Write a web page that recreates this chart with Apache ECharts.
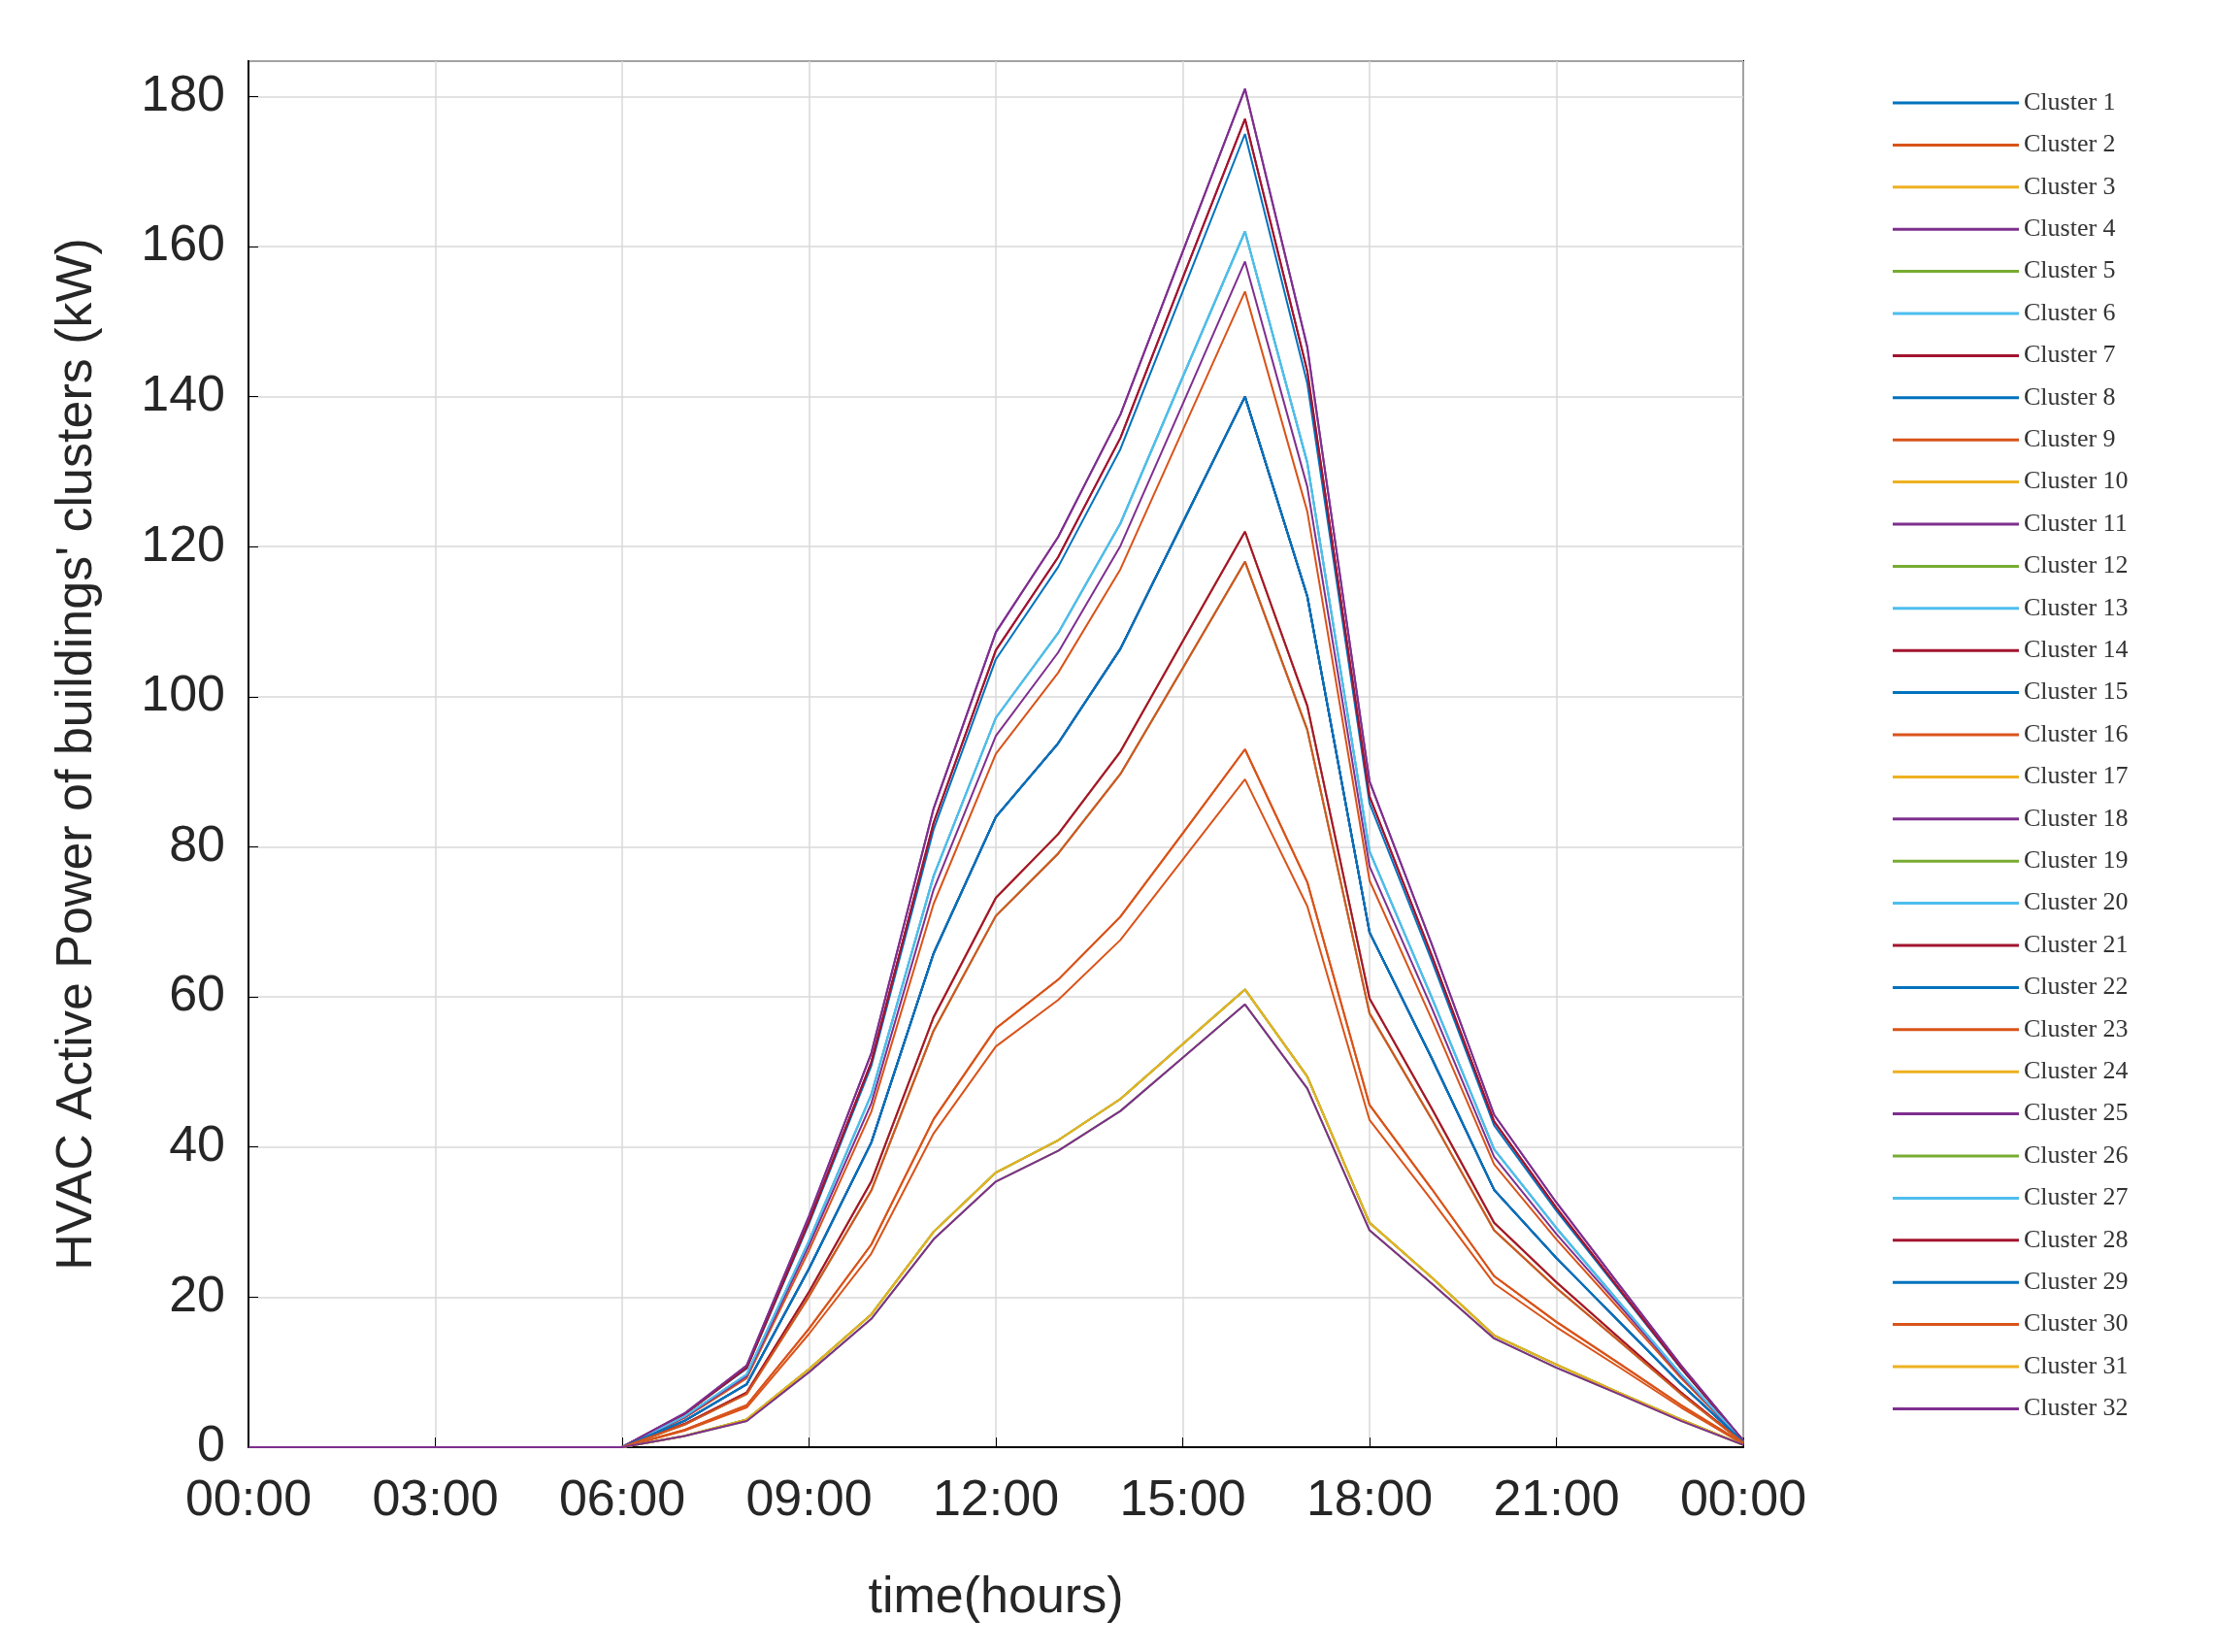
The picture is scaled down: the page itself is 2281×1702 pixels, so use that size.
<!DOCTYPE html>
<html>
<head>
<meta charset="utf-8">
<script src="https://cdn.jsdelivr.net/npm/echarts@6/dist/echarts.min.js"></script>
<style>html,body{margin:0;padding:0;background:#fff}#chart{width:2281px;height:1702px}</style>
</head>
<body>
<div id="chart"></div>
<script>
// hourly time points 0..24 h
var hours = [0,1,2,3,4,5,6,7,8,9,10,11,12,13,14,15,16,17,18,19,20,21,22,23,24];

// profiles (kW, one value per hour)
var p181 = [0,0,0,0,0,0,0,4.5,10.9,30.8,52.5,85.1,108.6,121.3,137.6,159.3,181,146.6,88.7,67,44.3,32.6,21.7,10.9,0.9];
var p177 = [0,0,0,0,0,0,0,4.4,10.6,30.1,51.3,83.2,106.2,118.6,134.5,155.8,177,143.4,86.7,65.5,43.4,31.9,21.2,10.6,0.9];
var p175 = [0,0,0,0,0,0,0,4.4,10.5,29.8,50.8,82.3,105,117.3,133,154,175,141.8,85.8,64.8,42.9,31.5,21,10.5,0.9];
var p162 = [0,0,0,0,0,0,0,4.1,9.7,27.5,47,76.1,97.2,108.5,123.1,142.6,162,131.2,79.4,59.9,39.7,29.2,19.4,9.7,0.8];
var p158 = [0,0,0,0,0,0,0,4,9.5,26.9,45.8,74.3,94.8,105.9,120.1,139,158,128,77.4,58.5,38.7,28.4,19,9.5,0.8];
var p154 = [0,0,0,0,0,0,0,3.9,9.2,26.2,44.7,72.4,92.4,103.2,117,135.5,154,124.7,75.5,57,37.7,27.7,18.5,9.2,0.8];
var p140 = [0,0,0,0,0,0,0,3.5,8.4,23.8,40.6,65.8,84,93.8,106.4,123.2,140,113.4,68.6,51.8,34.3,25.2,16.8,8.4,0.7];
var p122 = [0,0,0,0,0,0,0,3.1,7.3,20.7,35.4,57.3,73.2,81.7,92.7,107.4,122,98.8,59.8,45.1,29.9,22,14.6,7.3,0.6];
var p118 = [0,0,0,0,0,0,0,3,7.1,20.1,34.2,55.5,70.8,79.1,89.7,103.8,118,95.6,57.8,43.7,28.9,21.2,14.2,7.1,0.6];
var p93 = [0,0,0,0,0,0,0,2.3,5.6,15.8,27,43.7,55.8,62.3,70.7,81.8,93,75.3,45.6,34.4,22.8,16.7,11.2,5.6,0.5];
var p89 = [0,0,0,0,0,0,0,2.2,5.3,15.1,25.8,41.8,53.4,59.6,67.6,78.3,89,72.1,43.6,32.9,21.8,16,10.7,5.3,0.4];
var p61 = [0,0,0,0,0,0,0,1.5,3.7,10.4,17.7,28.7,36.6,40.9,46.4,53.7,61,49.4,29.9,22.6,14.9,11,7.3,3.7,0.3];
var p59 = [0,0,0,0,0,0,0,1.5,3.5,10,17.1,27.7,35.4,39.5,44.8,51.9,59,47.8,28.9,21.8,14.5,10.6,7.1,3.5,0.3];

// which profile each cluster follows
var clusterData = [p175, p154, p162, p181, p61, p162, p177, p140, p93, p118,
                   p122, p59, p162, p177, p140, p89, p118, p158, p61, p162,
                   p140, p140, p93, p122, p181, p61, p118, p122, p140, p118,
                   p61, p59];
var clusterNames = clusterData.map(function(d, i) { return 'Cluster ' + (i + 1); });

var colors = ['#0072BD', '#D95319', '#EDB120', '#7E2F8E', '#77AC30', '#4DBEEE', '#A2142F'];

var series = clusterData.map(function(d, i) {
    return {
        name: clusterNames[i],
        type: 'line',
        showSymbol: false,
        symbol: 'none',
        data: hours.map(function(h, k) { return [h, d[k]]; }),
        lineStyle: { width: 2, color: colors[i % 7] },
        itemStyle: { color: colors[i % 7] }
    };
});

var axisText = { fontFamily: 'Liberation Sans', fontSize: 52, color: '#262626' };

var option = {
    animation: false,
    grid: { left: 256, right: 485, top: 63, bottom: 211, show: true, borderColor: '#000', borderWidth: 2 },
    legend: {
        orient: 'vertical',
        left: 1945,
        top: 88,
        data: clusterNames,
        icon: 'rect',
        itemWidth: 130,
        itemHeight: 3,
        itemGap: 17.4,
        textStyle: { fontFamily: 'Liberation Serif', fontSize: 26, lineHeight: 24, height: 24, color: '#333' }
    },
    xAxis: {
        type: 'value',
        min: 0, max: 24, interval: 3,
        name: 'time(hours)',
        nameLocation: 'middle',
        nameGap: 130,
        nameTextStyle: { fontFamily: 'Liberation Sans', fontSize: 52, color: '#262626' },
        axisLine: { lineStyle: { color: '#000', width: 2 } },
        axisTick: { inside: true, length: 10, lineStyle: { color: '#000' } },
        axisLabel: Object.assign({ margin: 30, formatter: function(v) {
            var h = v % 24;
            return (h < 10 ? '0' : '') + h + ':00';
        } }, axisText),
        splitLine: { lineStyle: { color: '#d9d9d9', width: 1.5 } }
    },
    yAxis: {
        type: 'value',
        min: 0, max: 184.7, interval: 20,
        name: "HVAC Active Power of buildings' clusters (kW)",
        nameLocation: 'middle',
        nameGap: 150,
        nameTextStyle: { fontFamily: 'Liberation Sans', fontSize: 52, color: '#262626' },
        axisLine: { lineStyle: { color: '#000', width: 2 } },
        axisTick: { inside: true, length: 10, lineStyle: { color: '#000' } },
        axisLabel: Object.assign({ margin: 24, showMaxLabel: false, formatter: function(v) {
            return v % 20 === 0 ? String(v) : '';
        } }, axisText),
        splitLine: { lineStyle: { color: '#d9d9d9', width: 1.5 } }
    },
    series: series
};

echarts.init(document.getElementById('chart')).setOption(option);
</script>
</body>
</html>
